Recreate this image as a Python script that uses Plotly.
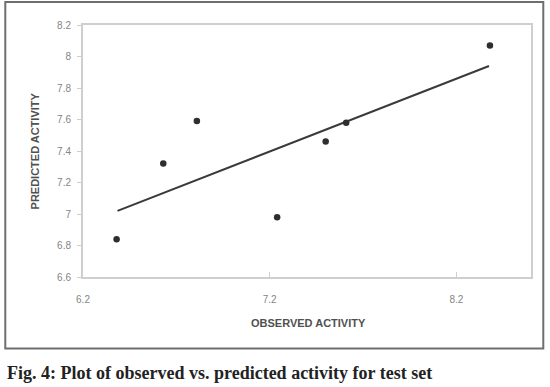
import plotly.graph_objects as go

# Data
observed = [6.38, 6.63, 6.81, 7.24, 7.50, 7.61, 8.38]
predicted = [6.84, 7.32, 7.59, 6.98, 7.46, 7.58, 8.07]
trend_x = [6.385, 8.375]
trend_y = [7.02, 7.94]
x_ticks = [6.2, 7.2, 8.2]
x_tick_labels = ["6.2", "7.2", "8.2"]
y_ticks = [6.6, 6.8, 7.0, 7.2, 7.4, 7.6, 7.8, 8.0, 8.2]
y_tick_labels = ["6.6", "6.8", "7", "7.2", "7.4", "7.6", "7.8", "8", "8.2"]
x_title = "OBSERVED ACTIVITY"
y_title = "PREDICTED ACTIVITY"
caption = "Fig. 4: Plot of observed vs. predicted activity for test set"

fig = go.Figure()
fig.add_trace(go.Scatter(x=trend_x, y=trend_y, mode="lines",
                         line=dict(color="#3a3a3a", width=2), showlegend=False))
fig.add_trace(go.Scatter(x=observed, y=predicted, mode="markers",
                         marker=dict(color="#2e2e2e", size=6.5, symbol="circle"),
                         showlegend=False))

L, R, T, B = 82.7, 530.7, 25.0, 276.7
W, H = 550, 387
pw, ph = R - L, B - T

def px(x):
    return (x - L) / pw

def py(y):
    return (B - y) / ph

tick_font = dict(family="Liberation Sans, Arial, sans-serif", size=10, color="#858585")
title_font = dict(family="Liberation Sans, Arial, sans-serif", size=11, color="#505050")

fig.update_layout(
    width=W, height=H,
    margin=dict(l=L, r=W - R, t=T, b=H - B, pad=0),
    paper_bgcolor="white", plot_bgcolor="white",
    xaxis=dict(range=[6.2, 8.6], tickvals=x_ticks, ticktext=x_tick_labels,
               showgrid=False, zeroline=False, showline=True, mirror=True,
               linecolor="#cfcfcf", linewidth=2, ticks="inside", ticklen=5,
               tickcolor="#cfcfcf", tickfont=tick_font, ticklabelstandoff=12),
    yaxis=dict(range=[6.6, 8.2], tickvals=y_ticks, ticktext=y_tick_labels,
               showgrid=False, zeroline=False, showline=True, mirror=True,
               linecolor="#cfcfcf", linewidth=2, ticks="outside", ticklen=4,
               tickcolor="#cfcfcf", tickfont=tick_font, ticklabelstandoff=4),
    shapes=[dict(type="rect", xref="paper", yref="paper",
                 x0=px(5), x1=px(543), y0=py(348), y1=py(2),
                 line=dict(color="#6e6e6e", width=2), fillcolor="rgba(0,0,0,0)",
                 layer="below")],
    annotations=[
        dict(text="<b>" + x_title + "</b>", xref="paper", yref="paper",
             x=px(308), y=py(323), xanchor="center", yanchor="middle",
             showarrow=False, font=title_font),
        dict(text="<b>" + y_title + "</b>", xref="paper", yref="paper",
             x=px(35), y=py(151), xanchor="center", yanchor="middle",
             textangle=-90, showarrow=False, font=title_font),
        dict(text="<b>" + caption + "</b>", xref="paper", yref="paper",
             x=px(5), y=py(373), xanchor="left", yanchor="middle",
             showarrow=False,
             font=dict(family="Liberation Serif, serif", size=18, color="#222222")),
    ],
)

fig.write_html("out.html", config={"displayModeBar": False},
               post_script="document.body.style.margin='0';document.body.style.overflow='hidden';")
